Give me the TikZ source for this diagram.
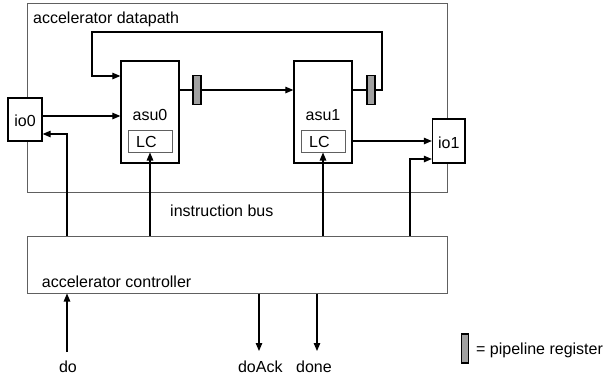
\documentclass[tikz,border=0pt]{standalone}
\usepackage{fontspec}
\setmainfont{Liberation Sans}
\usetikzlibrary{arrows.meta}
\definecolor{frame}{HTML}{606060}
\definecolor{regfill}{HTML}{A0A0A0}
\begin{document}
\begin{tikzpicture}[x=1pt,y=-1pt,
  font=\fontsize{16}{19}\selectfont,
  blk/.style={draw=black, line width=1.3pt, fill=white, inner sep=0pt},
  outer/.style={draw=frame, line width=1pt, inner sep=0pt},
  lcbox/.style={draw=frame, line width=1pt, fill=white, inner sep=0pt, minimum width=44pt, minimum height=22pt},
  pipereg/.style={draw=black, line width=1.2pt, fill=regfill, inner sep=0pt, minimum width=8pt, minimum height=29pt},
  arr/.style={line width=1.2pt, -{Triangle[length=8pt,width=6.5pt]}},
  wire/.style={line width=1.2pt},
  txt/.style={inner sep=0pt}]
\useasboundingbox (0,0) rectangle (605,376);

% containers
\node[outer, minimum width=420pt, minimum height=189pt] (dp) at (237,97.5) {};
\node[outer, minimum width=420pt, minimum height=57pt] (ctrl) at (237,264.5) {};
\node[txt, anchor=base west] (dplbl) at (33,23.3) {accelerator datapath};
\node[txt, anchor=base west] (ctrllbl) at (41.7,287.3) {accelerator controller};
\node[txt, anchor=base west] (buslbl) at (170,216) {instruction bus};

% blocks
\node[blk, minimum width=34pt, minimum height=43pt] (io0) at (25,119.5) {};
\node[txt, anchor=base] (io0lbl) at (25,126) {io0};
\node[blk, minimum width=58pt, minimum height=102pt] (asu0) at (150,112) {};
\node[txt, anchor=base] (asu0lbl) at (150,120.3) {asu0};
\node[lcbox] (lc0) at (150,141) {};
\node[txt, anchor=base west] (lc0lbl) at (136,147) {LC};
\node[blk, minimum width=58pt, minimum height=102pt] (asu1) at (323,112) {};
\node[txt, anchor=base] (asu1lbl) at (323,120.3) {asu1};
\node[lcbox] (lc1) at (323,141) {};
\node[txt, anchor=base west] (lc1lbl) at (309,147) {LC};
\node[blk, minimum width=32.5pt, minimum height=44pt] (io1) at (448.75,141) {};
\node[txt, anchor=base] (io1lbl) at (448.75,148.3) {io1};
\node[pipereg] (reg0) at (197,90) {};
\node[pipereg] (reg1) at (371,90) {};

% datapath connections
\draw[arr] (io0.east |- 0,116) -- (asu0.west |- 0,116);
\draw[wire] (asu0.east |- reg0.west) -- (reg0.west);
\draw[arr] (reg0.east) -- (asu1.west |- reg0.east);
\draw[wire] (asu1.east |- reg1.west) -- (reg1.west);
\draw[arr] (reg1.east) -- (382,90) -- (382,32) -- (92,32) |- (asu0.west |- 0,76);
\draw[arr] (asu1.east |- 0,141) -- (io1.west |- 0,141);

% instruction bus
\draw[arr] (ctrl.north -| 67,0) |- (io0.east |- 0,134);
\draw[arr] (ctrl.north -| lc0.south) -- (lc0.south);
\draw[arr] (ctrl.north -| lc1.south) -- (lc1.south);
\draw[arr] (ctrl.north -| 410,0) |- (io1.west |- 0,159);

% external signals
\coordinate (doend) at (67,352);
\coordinate (ackend) at (259,351);
\coordinate (doneend) at (317,351);
\draw[arr] (doend) -- (ctrl.south -| doend);
\draw[arr] (ctrl.south -| ackend) -- (ackend);
\draw[arr] (ctrl.south -| doneend) -- (doneend);
\node[txt, anchor=base] (dolbl) at (68,372.3) {do};
\node[txt, anchor=base] (acklbl) at (260.3,372.3) {doAck};
\node[txt, anchor=base] (donelbl) at (314,372.3) {done};

% legend
\node[pipereg, minimum width=6.5pt] (legreg) at (465,348.5) {};
\node[txt, anchor=base west] (leglbl) at (476,354) {= pipeline register};
\end{tikzpicture}
\end{document}
